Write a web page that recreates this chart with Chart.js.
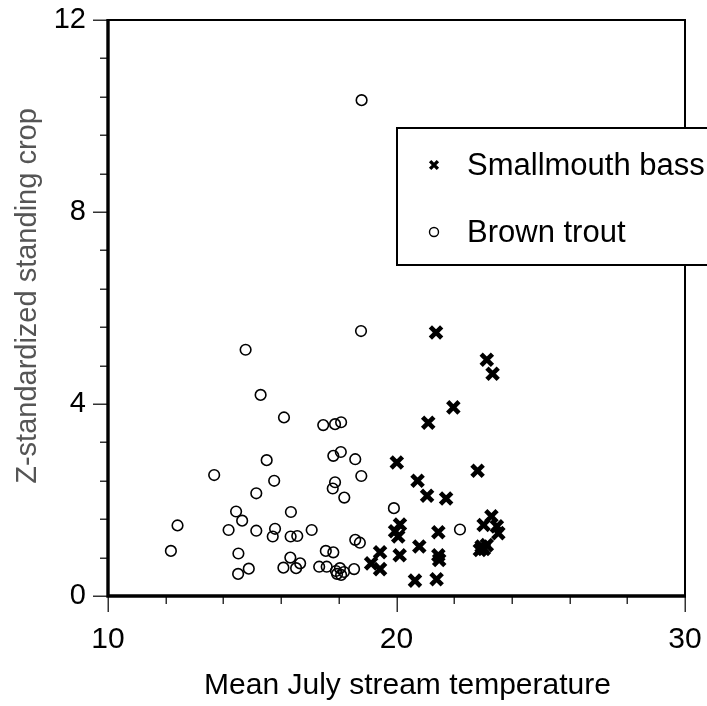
<!DOCTYPE html>
<html>
<head>
<meta charset="utf-8">
<script src="https://cdn.jsdelivr.net/npm/chart.js@4.4.1/dist/chart.umd.min.js"></script>
<style>
html,body{margin:0;padding:0;background:#fff;overflow:hidden;}
#wrap{width:707px;height:706px;position:relative;}
</style>
</head>
<body>
<div id="wrap"><canvas id="c" width="707" height="706"></canvas></div>
<script>
// ---- data ----
const seriesNames = ["Smallmouth bass", "Brown trout"];
const bassX = [21.37,23.13,23.33,21.97,21.10,20.01,22.81,20.73,21.06,21.72,20.12,19.95,20.06,21.45,23.02,23.29,23.48,23.53,22.95,23.13,22.89,23.03,20.79,19.43,19.12,19.43,20.11,21.45,21.48,20.64,21.39];
const bassY = [5.49,4.92,4.63,3.93,3.61,2.78,2.61,2.40,2.09,2.03,1.49,1.35,1.24,1.33,1.48,1.66,1.45,1.31,1.03,1.06,0.96,0.98,1.03,0.91,0.68,0.56,0.85,0.85,0.75,0.32,0.35];
const troutX = [14.77,15.29,16.10,15.50,13.68,15.76,15.14,14.44,16.34,12.41,14.65,14.18,15.14,15.79,15.71,16.33,16.56,12.18,14.52,16.32,14.88,14.51,16.08,16.52,16.66,18.77,18.79,17.46,17.87,18.08,17.81,18.07,18.57,18.78,17.87,17.79,18.19,19.91,22.20,17.06,18.57,18.73,17.55,17.81,17.32,17.58,17.90,18.04,18.18,18.08,17.94,18.53];
const troutY = [5.13,4.19,3.72,2.83,2.52,2.40,2.14,1.76,1.75,1.47,1.57,1.375,1.36,1.40,1.24,1.24,1.25,0.94,0.885,0.80,0.57,0.46,0.59,0.58,0.68,5.52,10.33,3.56,3.58,3.62,2.92,3.00,2.85,2.50,2.37,2.24,2.05,1.83,1.385,1.375,1.17,1.11,0.94,0.91,0.61,0.61,0.52,0.58,0.50,0.44,0.46,0.56];
const xTicks = [10, 20, 30];
const yTicks = [0, 4, 8, 12];
const xMinorStep = 2;
const yMinorStep = 0.8;
const xTitle = "Mean July stream temperature";
const yTitle = "Z-standardized standing crop";

const FONT = "'Liberation Sans', Arial, Helvetica, sans-serif";
const toPts = (xs, ys) => xs.map((x, i) => ({x: x, y: ys[i]}));

const bassStyle = {pointStyle: 'crossRot', radius: 8, borderWidth: 4.6};
const troutStyle = {pointStyle: 'circle', radius: 5.3, borderWidth: 1.6};

const decor = {
  id: 'decor',
  afterDatasetsDraw(chart) {
    const ctx = chart.ctx;
    const xs = chart.scales.x, ys = chart.scales.y;
    const a = chart.chartArea;
    ctx.save();
    // tick marks
    ctx.strokeStyle = '#333';
    ctx.lineWidth = 1.5;
    ctx.beginPath();
    for (let v = ys.min; v <= ys.max + 1e-9; v += yMinorStep) {
      const py = Math.round(ys.getPixelForValue(v)) + 0.25;
      const major = yTicks.some(t => Math.abs(t - v) < 1e-6);
      ctx.moveTo(a.left - (major ? 15 : 8), py);
      ctx.lineTo(a.left, py);
    }
    for (let v = xs.min; v <= xs.max + 1e-9; v += xMinorStep) {
      const px = Math.round(xs.getPixelForValue(v)) + 0.25;
      const major = xTicks.some(t => Math.abs(t - v) < 1e-6);
      ctx.moveTo(px, a.bottom);
      ctx.lineTo(px, a.bottom + (major ? 16 : 8));
    }
    ctx.stroke();
    // frame
    ctx.strokeStyle = '#000';
    ctx.lineWidth = 2;
    ctx.beginPath();
    ctx.moveTo(a.left, a.top); ctx.lineTo(a.right, a.top); ctx.lineTo(a.right, a.bottom);
    ctx.stroke();
    ctx.lineWidth = 3.4;
    ctx.beginPath();
    ctx.moveTo(a.left, a.top - 1); ctx.lineTo(a.left, a.bottom); ctx.lineTo(a.right + 1, a.bottom);
    ctx.stroke();
    ctx.restore();
  },
  afterDraw(chart) {
    const ctx = chart.ctx;
    const a = chart.chartArea;
    ctx.save();
    // axis titles
    ctx.fillStyle = '#000';
    ctx.font = '30px ' + FONT;
    ctx.textAlign = 'center';
    ctx.textBaseline = 'middle';
    ctx.fillText(xTitle, (a.left + a.right) / 2 + 11, 686);
    ctx.save();
    ctx.translate(28, (a.top + a.bottom) / 2 - 12);
    ctx.rotate(-Math.PI / 2);
    ctx.fillStyle = '#555';
    ctx.font = '29px ' + FONT;
    ctx.fillText(yTitle, 0, 0);
    ctx.restore();
    // legend box
    const bx = 397, by = 128, bw = 330, bh = 137;
    ctx.fillStyle = '#fff';
    ctx.fillRect(bx, by, bw, bh);
    ctx.strokeStyle = '#000';
    ctx.lineWidth = 2;
    ctx.strokeRect(bx, by, bw, bh);
    const rows = [
      {name: seriesNames[0], style: {pointStyle: 'crossRot', radius: 5.5, borderWidth: 3.4}, y: 165},
      {name: seriesNames[1], style: {pointStyle: 'circle', radius: 4.5, borderWidth: 1.4}, y: 232}
    ];
    rows.forEach(r => {
      ctx.strokeStyle = '#000';
      ctx.fillStyle = 'rgba(0,0,0,0)';
      ctx.lineWidth = r.style.borderWidth;
      Chart.helpers.drawPoint(ctx, {pointStyle: r.style.pointStyle, radius: r.style.radius, rotation: 0, borderWidth: r.style.borderWidth}, 434, r.y);
      ctx.fillStyle = '#000';
      ctx.font = '31px ' + FONT;
      ctx.textAlign = 'left';
      ctx.textBaseline = 'middle';
      ctx.fillText(r.name, 467, r.y + 1);
    });
    ctx.restore();
  }
};

new Chart(document.getElementById('c'), {
  type: 'scatter',
  data: {
    datasets: [
      {label: seriesNames[1], data: toPts(troutX, troutY), pointStyle: troutStyle.pointStyle, pointRadius: troutStyle.radius,
       pointBorderWidth: troutStyle.borderWidth, borderColor: '#000', backgroundColor: 'rgba(0,0,0,0)', pointHoverRadius: troutStyle.radius},
      {label: seriesNames[0], data: toPts(bassX, bassY), pointStyle: bassStyle.pointStyle, pointRadius: bassStyle.radius,
       pointBorderWidth: bassStyle.borderWidth, borderColor: '#000', backgroundColor: '#000', pointHoverRadius: bassStyle.radius}
    ]
  },
  options: {
    responsive: false,
    animation: false,
    events: [],
    layout: {padding: {left: 0, top: 20, right: 22, bottom: 0}},
    plugins: {legend: {display: false}, tooltip: {enabled: false}, title: {display: false}},
    scales: {
      x: {
        type: 'linear', min: 10, max: 30,
        afterFit: s => { s.height = 110; s.paddingLeft = 0; s.paddingRight = 0; },
        afterBuildTicks: s => { s.ticks = xTicks.map(v => ({value: v})); },
        grid: {display: false, drawTicks: true, tickLength: 16},
        border: {display: false},
        ticks: {font: {size: 30, family: FONT}, color: '#000', padding: 10, maxRotation: 0}
      },
      y: {
        type: 'linear', min: 0, max: 12,
        afterFit: s => { s.width = 108; s.paddingTop = 0; s.paddingBottom = 0; },
        afterBuildTicks: s => { s.ticks = yTicks.map(v => ({value: v})); },
        grid: {display: false, drawTicks: true, tickLength: 15},
        border: {display: false},
        ticks: {font: {size: 29, family: FONT}, color: '#000', padding: 7}
      }
    }
  },
  plugins: [decor]
});
</script>
</body>
</html>
